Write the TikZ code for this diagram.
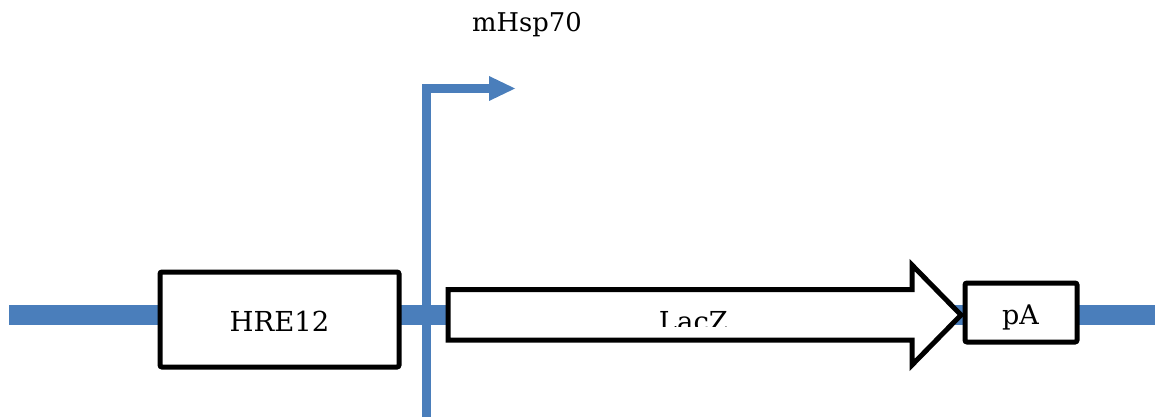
\documentclass[tikz,border=0pt]{standalone}
\usepackage{fontspec}
\setmainfont{DejaVu Serif}
\definecolor{dnablue}{RGB}{74,126,187}
\begin{document}
\begin{tikzpicture}[x=1pt,y=-1pt,
  backbone/.style={draw=dnablue,line width=20pt},
  promline/.style={draw=dnablue,line width=9pt},
  partbox/.style={draw=black,fill=white,line width=5pt,rounded corners=2pt,inner sep=0pt},
  genearrow/.style={draw=black,fill=white,line width=5pt,line join=miter},
  lbl/.style={inner sep=0pt,text=black}]
\useasboundingbox (0,0) rectangle (1155,417);
% backbone
\coordinate (bbL) at (9,315);
\coordinate (bbR) at (1155,315);
\draw[backbone] (bbL) -- (bbR);
% promoter
\coordinate (promB) at (426.5,417);
\coordinate (promT) at (489,88.5);
\draw[promline] (promB) -- (426.5,84);
\draw[promline] (422,88.5) -- (promT);
\fill[dnablue] (489,76) -- (515,88.5) -- (489,101) -- cycle;
\node[lbl,anchor=base] (mhsp) at (527,32) {\fontsize{25.8}{28}\selectfont mHsp70};
% HRE12
\node[partbox,minimum width=239pt,minimum height=95pt] (hre) at (279.5,319.5) {};
\node[lbl,anchor=base] (hret) at (279.5,331) {\fontsize{27.5}{30}\selectfont HRE12};
% LacZ arrow
\draw[genearrow] (448,289.5) -- (912,289.5) -- (912,265) -- (961,315) -- (912,365) -- (912,340) -- (448,340) -- cycle;
\begin{scope}
\clip (600,290) rectangle (800,326);
\node[lbl,anchor=base] (lacz) at (693.5,331) {\fontsize{27.5}{30}\selectfont LacZ};
\end{scope}
% pA
\node[partbox,minimum width=112pt,minimum height=59pt] (pa) at (1021,312.5) {};
\node[lbl,anchor=base] (pat) at (1020.5,324) {\fontsize{27}{30}\selectfont pA};
\end{tikzpicture}
\end{document}
